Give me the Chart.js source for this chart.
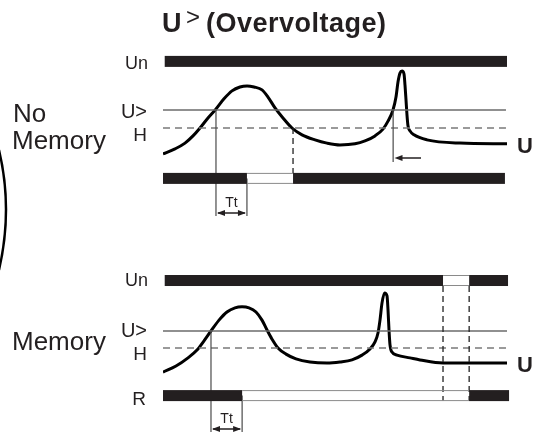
<!DOCTYPE html>
<html>
<head>
<meta charset="utf-8">
<script src="https://cdn.jsdelivr.net/npm/chart.js@4.4.1/dist/chart.umd.min.js"></script>
<style>
html, body { margin: 0; padding: 0; background: #fff; }
#wrap { position: relative; width: 537px; height: 432px; }
#wrap canvas { position: absolute; left: 0; top: 0; }
</style>
</head>
<body>
<div id="wrap">
  <canvas id="topChart" width="537" height="432"></canvas>
  <canvas id="bottomChart" width="537" height="432"></canvas>
</div>
<script>
// U> overvoltage relay timing, without / with memory

const titleMain = "U";
const titleSup = ">";
const titleRest = "(Overvoltage)";
const modeTopLines = ["No", "Memory"];
const modeBottom = "Memory";
const signalLabel = "U";
const delayLabel = "Tt";

// thresholds, relative to Un
const levelTrip = 1.10;
const levelHyst = 1.05;

// --- top panel: no memory ---
const timeTop = [0, 3.49, 6.40, 8.72, 10.76, 13.08, 15.41, 17.73, 20.06, 22.38, 24.42, 26.45, 28.78, 30.52,
  32.56, 34.88, 37.50, 40.41, 44.19, 47.67, 51.45, 55.81, 58.72, 61.63, 63.95, 65.41, 66.86, 67.73, 68.31,
  68.90, 69.48, 70.06, 70.35, 70.64, 70.93, 71.22, 71.80, 72.97, 76.74, 86.34, 100];
const voltTop = [0.978, 0.992, 1.008, 1.028, 1.050, 1.078, 1.103, 1.131, 1.153, 1.164, 1.167, 1.164, 1.156, 1.136,
  1.106, 1.078, 1.050, 1.031, 1.017, 1.008, 1.003, 1.006, 1.014, 1.028, 1.047, 1.069, 1.100, 1.136, 1.178,
  1.203, 1.208, 1.200, 1.169, 1.128, 1.086, 1.056, 1.042, 1.031, 1.017, 1.008, 1.006];
const spanTop = [0, 99.7];
const unTop = [[0.5, 100, 1]];
const relayTop = [[0, 24.4, 1], [24.4, 37.8, 0], [37.8, 99.4, 1]];
const rowUnTop = 1.235;
const rowRelayTop = 0.910;
const rowLabelsTop = ["Un", "U>", "H", ""];
const tripTop = 15.4;
const delayEndTop = 24.4;
const resetTop = [37.8];
const spikeTop = 66.9;
const spikeArrowTop = [75, 67.3];

// --- bottom panel: memory ---
const timeBottom = [0, 3.78, 7.27, 9.88, 11.92, 13.95, 16.28, 18.60, 20.93, 22.97, 25.00, 27.03, 28.78, 30.23,
  31.69, 33.43, 35.76, 38.66, 42.73, 47.67, 51.45, 54.94, 57.85, 60.17, 61.63, 62.50, 63.08, 63.66, 64.4,
  65.12, 65.41, 65.70, 65.99, 66.57, 68.02, 71.80, 74.71, 81.40, 100];
const voltBottom = [0.979, 0.997, 1.021, 1.044, 1.071, 1.100, 1.132, 1.156, 1.168, 1.171, 1.168, 1.156, 1.132, 1.103,
  1.076, 1.050, 1.032, 1.018, 1.009, 1.006, 1.009, 1.015, 1.029, 1.047, 1.068, 1.094, 1.132, 1.182, 1.212,
  1.203, 1.162, 1.103, 1.059, 1.038, 1.029, 1.021, 1.015, 1.006, 1.006];
const spanBottom = [0, 101];
const unBottom = [[0.5, 81.4, 1], [81.4, 89, 0], [89, 100.3, 1]];
const relayBottom = [[0, 23, 1], [23, 89, 0], [89, 100.6, 1]];
const rowUnBottom = 1.2485;
const rowRelayBottom = 0.910;
const rowLabelsBottom = ["Un", "U>", "H", "R"];
const tripBottom = 13.95;
const delayEndBottom = 23.0;
const resetBottom = [81.4, 89];

const ink = "#231f20";
const font = "'Liberation Sans', Arial, sans-serif";

function pts(xs, ys) {
  return xs.map((x, i) => ({ x: x, y: ys[i] }));
}

function hline(ctx, x0, x1, y) {
  ctx.beginPath();
  ctx.moveTo(x0, y);
  ctx.lineTo(x1, y);
  ctx.stroke();
}

function vline(ctx, x, y0, y1) {
  ctx.beginPath();
  ctx.moveTo(x, y0);
  ctx.lineTo(x, y1);
  ctx.stroke();
}

function head(ctx, x, y, dir) {
  ctx.beginPath();
  ctx.moveTo(x, y);
  ctx.lineTo(x - dir * 8, y - 3);
  ctx.lineTo(x - dir * 8, y + 3);
  ctx.closePath();
  ctx.fill();
}

function drawRow(ctx, xs, yc, segs) {
  const h = 11;
  segs.forEach(s => {
    const x0 = xs.getPixelForValue(s[0]);
    const x1 = xs.getPixelForValue(s[1]);
    if (s[2]) {
      ctx.fillStyle = ink;
      ctx.fillRect(x0, yc - h / 2, x1 - x0, h);
    } else {
      ctx.strokeStyle = "#8a8a8a";
      ctx.lineWidth = 1;
      hline(ctx, x0, x1, yc - h / 2 + 0.5);
      hline(ctx, x0, x1, yc + h / 2 - 0.5);
    }
  });
}

function label(ctx, txt, x, capMid, size, align, weight) {
  ctx.font = (weight || "") + " " + size + "px " + font;
  ctx.textAlign = align;
  ctx.textBaseline = "alphabetic";
  ctx.fillStyle = ink;
  ctx.fillText(txt, x, capMid + size * 0.358);
}

function panelPlugin(p) {
  return {
    id: "panel_" + p.id,
    afterDraw(chart) {
      const ctx = chart.ctx;
      const xs = chart.scales.x;
      const ys = chart.scales.y;
      const yUn = ys.getPixelForValue(p.rowUn);
      const yRel = ys.getPixelForValue(p.rowRelay);
      const yTrip = ys.getPixelForValue(levelTrip);
      const yHyst = ys.getPixelForValue(levelHyst);
      ctx.save();

      // trip and delay markers
      const xTrip = xs.getPixelForValue(p.trip);
      const xDelay = xs.getPixelForValue(p.delayEnd);
      const yLow = p.markBottom;
      ctx.strokeStyle = "#4a4a4a";
      ctx.lineWidth = 1.2;
      vline(ctx, xTrip, yTrip, yLow);
      vline(ctx, xDelay, yRel, yLow);
      ctx.strokeStyle = ink;
      ctx.lineWidth = 1.5;
      const yArr = yLow - 3;
      hline(ctx, xTrip + 2, xDelay - 2, yArr);
      ctx.fillStyle = ink;
      head(ctx, xTrip + 1, yArr, -1);
      head(ctx, xDelay - 1, yArr, 1);
      label(ctx, delayLabel, (xTrip + xDelay) / 2, yArr - 11, 14, "center");

      // reset markers (dashed)
      ctx.strokeStyle = "#222";
      ctx.lineWidth = 1.3;
      ctx.setLineDash([6, 4]);
      p.reset.forEach(t => {
        const x = xs.getPixelForValue(t);
        if (p.id === "top") vline(ctx, x, yHyst, yRel - 5.5);
        else vline(ctx, x, yUn + 5.5, yRel + 5.5);
      });
      ctx.setLineDash([]);

      // spike marker
      if (p.spike !== undefined) {
        const xs0 = xs.getPixelForValue(p.spike);
        ctx.strokeStyle = "#4a4a4a";
        ctx.lineWidth = 1.2;
        vline(ctx, xs0, yTrip, yTrip + 52);
        const ya = yTrip + 48;
        const a0 = xs.getPixelForValue(p.spikeArrow[0]);
        const a1 = xs.getPixelForValue(p.spikeArrow[1]);
        ctx.strokeStyle = ink;
        ctx.lineWidth = 1.5;
        hline(ctx, a0, a1 + 4, ya);
        ctx.fillStyle = ink;
        head(ctx, a1, ya, -1);
      }

      // state rows
      drawRow(ctx, xs, yUn, p.un);
      drawRow(ctx, xs, yRel, p.relay);

      // row labels
      label(ctx, p.labels[0], 148, yUn + p.offUn, 18, "right");
      label(ctx, p.labels[1], 147, yTrip + p.offTrip, 20, "right");
      label(ctx, p.labels[2], 147, yHyst + p.offHyst, 19, "right");
      if (p.labels[3]) label(ctx, p.labels[3], 146, yRel + 2.5, 19, "right");

      // signal name at the end of the curve
      const yEnd = ys.getPixelForValue(p.volt[p.volt.length - 1]);
      label(ctx, signalLabel, 517, yEnd + 1, 22, "left", "bold");

      if (p.id === "top") {
        // title
        label(ctx, titleMain, 162, 22.5, 27, "left", "bold");
        ctx.font = "24px " + font;
        ctx.textAlign = "left";
        ctx.fillText(titleSup, 186, 25);
        ctx.letterSpacing = "0.5px";
        label(ctx, titleRest, 206, 22.5, 27, "left", "bold");
        ctx.letterSpacing = "0px";
        // mode name
        label(ctx, modeTopLines[0], 13, 113, 26, "left");
        label(ctx, modeTopLines[1], 12, 140, 26, "left");
        // bracket
        ctx.strokeStyle = "#000";
        ctx.lineWidth = 2.5;
        ctx.beginPath();
        ctx.moveTo(-1, 150);
        ctx.quadraticCurveTo(13, 209, -1, 270);
        ctx.stroke();
      } else {
        label(ctx, modeBottom, 12, 341, 26, "left");
      }
      ctx.restore();
    }
  };
}

function makePanel(p) {
  const ctx = document.getElementById(p.canvas).getContext("2d");
  return new Chart(ctx, {
    type: "line",
    data: {
      datasets: [
        {
          data: pts(p.span, [levelTrip, levelTrip]),
          borderColor: "#6b6b6b",
          borderWidth: 1.5,
          pointRadius: 0
        },
        {
          data: pts(p.span, [levelHyst, levelHyst]),
          borderColor: "#7a7a7a",
          borderWidth: 1.5,
          borderDash: [7, 5],
          pointRadius: 0
        },
        {
          data: pts(p.time, p.volt),
          borderColor: "#000",
          borderWidth: 3,
          pointRadius: 0,
          cubicInterpolationMode: "monotone"
        }
      ]
    },
    options: {
      responsive: false,
      animation: false,
      layout: { padding: p.padding },
      plugins: { legend: { display: false }, tooltip: { enabled: false } },
      scales: {
        x: { type: "linear", min: 0, max: 100, display: false },
        y: { type: "linear", min: p.yMin, max: p.yMax, display: false }
      }
    },
    plugins: [panelPlugin(p)]
  });
}

makePanel({
  id: "top", canvas: "topChart",
  time: timeTop, volt: voltTop, span: spanTop,
  un: unTop, relay: relayTop, rowUn: rowUnTop, rowRelay: rowRelayTop,
  labels: rowLabelsTop, trip: tripTop, delayEnd: delayEndTop,
  reset: resetTop, spike: spikeTop, spikeArrow: spikeArrowTop,
  markBottom: 216, offUn: 1, offTrip: 1, offHyst: 6,
  padding: { left: 163, right: 30, top: 38, bottom: 206.8 },
  yMin: 0.78, yMax: 1.30
});

makePanel({
  id: "bottom", canvas: "bottomChart",
  time: timeBottom, volt: voltBottom, span: spanBottom,
  un: unBottom, relay: relayBottom, rowUn: rowUnBottom, rowRelay: rowRelayBottom,
  labels: rowLabelsBottom, trip: tripBottom, delayEnd: delayEndBottom,
  reset: resetBottom,
  markBottom: 432, offUn: -1, offTrip: -1, offHyst: 5,
  padding: { left: 163, right: 30, top: 263, bottom: 2.4 },
  yMin: 0.81, yMax: 1.30
});
</script>
</body>
</html>
